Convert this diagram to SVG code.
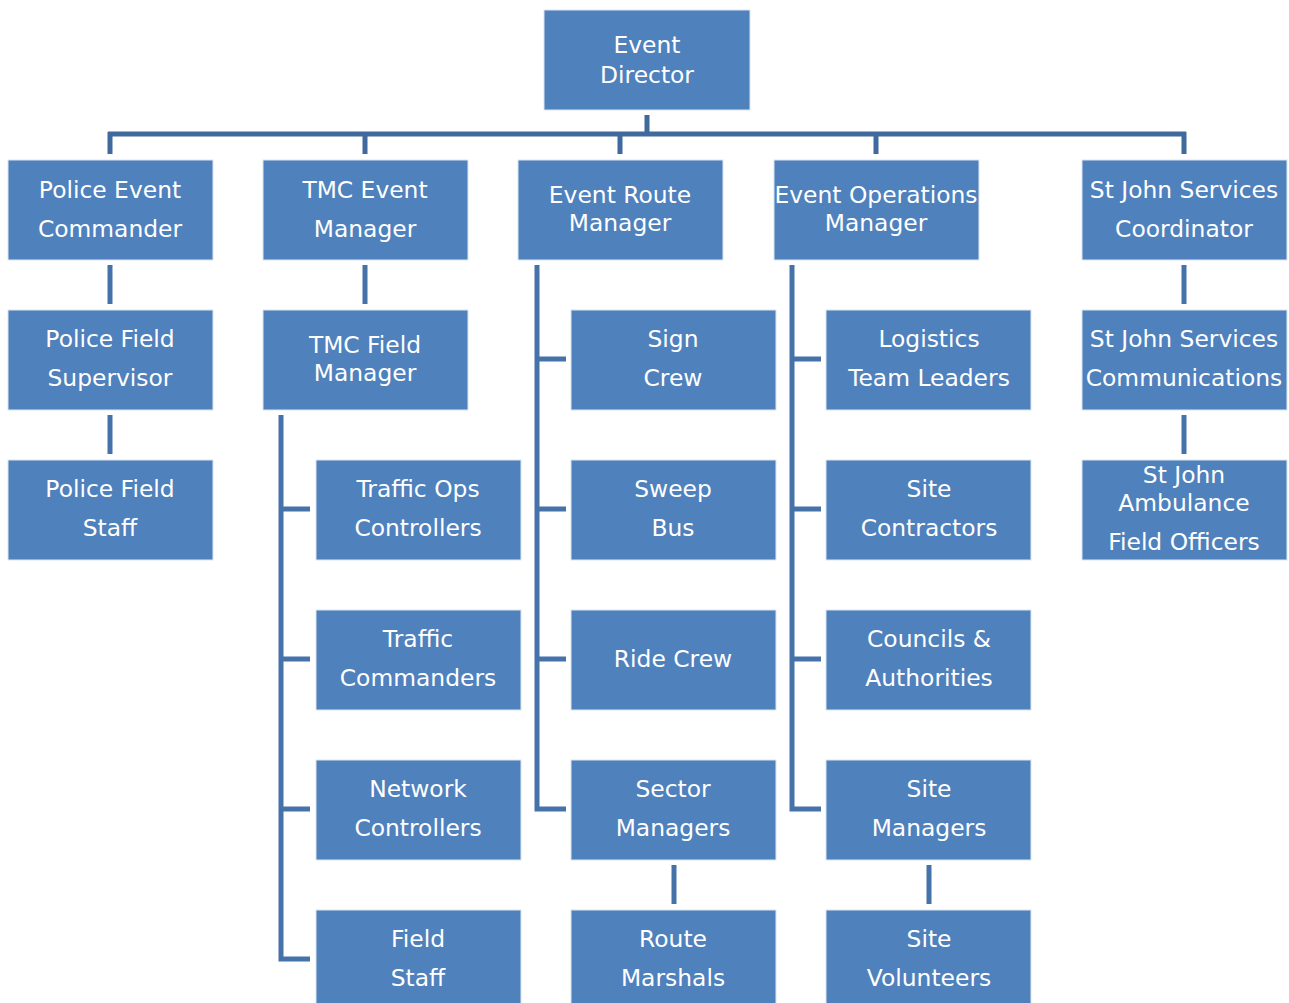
<svg xmlns="http://www.w3.org/2000/svg" width="1289" height="1003" viewBox="0 0 1289 1003">
<style>
.box{fill:#4F81BD;stroke:#DCE6F2;stroke-width:1}
.t{fill:#FFFFFF;font-family:"DejaVu Sans","Liberation Sans",sans-serif;font-size:23.4px;text-anchor:middle}
.c{stroke:#4672AA;stroke-width:5;fill:none}
.top{stroke:#40699D;stroke-width:5;fill:none}
</style>
<rect width="1289" height="1003" fill="#FFFFFF"/>
<g id="connectors">
<path class="top" d="M647 115V134M108 134H1186M110 132V154M365 132V154M620 132V154M876 132V154M1184 132V154"/>
<path class="c" d="M110 265V304M110 415V454M365 265V304M1184 265V304M1184 415V454M674 865V904M929 865V904"/>
<path class="c" d="M281 415V959H310M281 509H310M281 659H310M281 809H310"/>
<path class="c" d="M537 265V809H566M537 359H566M537 509H566M537 659H566"/>
<path class="c" d="M792 265V809H821M792 359H821M792 509H821M792 659H821"/>
</g>
<g id="event-director"><rect class="box" x="544" y="10" width="206" height="100"/><text class="t" x="647" y="53">Event</text><text class="t" x="647" y="83">Director</text></g>
<g id="police-event-commander"><rect class="box" x="8" y="160" width="205" height="100"/><text class="t" x="110" y="198">Police Event</text><text class="t" x="110" y="237">Commander</text></g>
<g id="tmc-event-manager"><rect class="box" x="263" y="160" width="205" height="100"/><text class="t" x="365" y="198">TMC Event</text><text class="t" x="365" y="237">Manager</text></g>
<g id="event-route-manager"><rect class="box" x="518" y="160" width="205" height="100"/><text class="t" x="620" y="203">Event Route</text><text class="t" x="620" y="231">Manager</text></g>
<g id="event-operations-manager"><rect class="box" x="774" y="160" width="205" height="100"/><text class="t" x="876" y="203">Event Operations</text><text class="t" x="876" y="231">Manager</text></g>
<g id="st-john-coordinator"><rect class="box" x="1082" y="160" width="205" height="100"/><text class="t" x="1184" y="198">St John Services</text><text class="t" x="1184" y="237">Coordinator</text></g>
<g id="police-field-supervisor"><rect class="box" x="8" y="310" width="205" height="100"/><text class="t" x="110" y="347">Police Field</text><text class="t" x="110" y="386">Supervisor</text></g>
<g id="tmc-field-manager"><rect class="box" x="263" y="310" width="205" height="100"/><text class="t" x="365" y="353">TMC Field</text><text class="t" x="365" y="381">Manager</text></g>
<g id="sign-crew"><rect class="box" x="571" y="310" width="205" height="100"/><text class="t" x="673" y="347">Sign</text><text class="t" x="673" y="386">Crew</text></g>
<g id="logistics-team-leaders"><rect class="box" x="826" y="310" width="205" height="100"/><text class="t" x="929" y="347">Logistics</text><text class="t" x="929" y="386">Team Leaders</text></g>
<g id="st-john-communications"><rect class="box" x="1082" y="310" width="205" height="100"/><text class="t" x="1184" y="347">St John Services</text><text class="t" x="1184" y="386">Communications</text></g>
<g id="police-field-staff"><rect class="box" x="8" y="460" width="205" height="100"/><text class="t" x="110" y="497">Police Field</text><text class="t" x="110" y="536">Staff</text></g>
<g id="traffic-ops-controllers"><rect class="box" x="316" y="460" width="205" height="100"/><text class="t" x="418" y="497">Traffic Ops</text><text class="t" x="418" y="536">Controllers</text></g>
<g id="sweep-bus"><rect class="box" x="571" y="460" width="205" height="100"/><text class="t" x="673" y="497">Sweep</text><text class="t" x="673" y="536">Bus</text></g>
<g id="site-contractors"><rect class="box" x="826" y="460" width="205" height="100"/><text class="t" x="929" y="497">Site</text><text class="t" x="929" y="536">Contractors</text></g>
<g id="st-john-ambulance"><rect class="box" x="1082" y="460" width="205" height="100"/><text class="t" x="1184" y="483">St John</text><text class="t" x="1184" y="511">Ambulance</text><text class="t" x="1184" y="550">Field Officers</text></g>
<g id="traffic-commanders"><rect class="box" x="316" y="610" width="205" height="100"/><text class="t" x="418" y="647">Traffic</text><text class="t" x="418" y="686">Commanders</text></g>
<g id="ride-crew"><rect class="box" x="571" y="610" width="205" height="100"/><text class="t" x="673" y="667">Ride Crew</text></g>
<g id="councils-authorities"><rect class="box" x="826" y="610" width="205" height="100"/><text class="t" x="929" y="647">Councils &amp;</text><text class="t" x="929" y="686">Authorities</text></g>
<g id="network-controllers"><rect class="box" x="316" y="760" width="205" height="100"/><text class="t" x="418" y="797">Network</text><text class="t" x="418" y="836">Controllers</text></g>
<g id="sector-managers"><rect class="box" x="571" y="760" width="205" height="100"/><text class="t" x="673" y="797">Sector</text><text class="t" x="673" y="836">Managers</text></g>
<g id="site-managers"><rect class="box" x="826" y="760" width="205" height="100"/><text class="t" x="929" y="797">Site</text><text class="t" x="929" y="836">Managers</text></g>
<g id="field-staff"><rect class="box" x="316" y="910" width="205" height="100"/><text class="t" x="418" y="947">Field</text><text class="t" x="418" y="986">Staff</text></g>
<g id="route-marshals"><rect class="box" x="571" y="910" width="205" height="100"/><text class="t" x="673" y="947">Route</text><text class="t" x="673" y="986">Marshals</text></g>
<g id="site-volunteers"><rect class="box" x="826" y="910" width="205" height="100"/><text class="t" x="929" y="947">Site</text><text class="t" x="929" y="986">Volunteers</text></g>
</svg>
